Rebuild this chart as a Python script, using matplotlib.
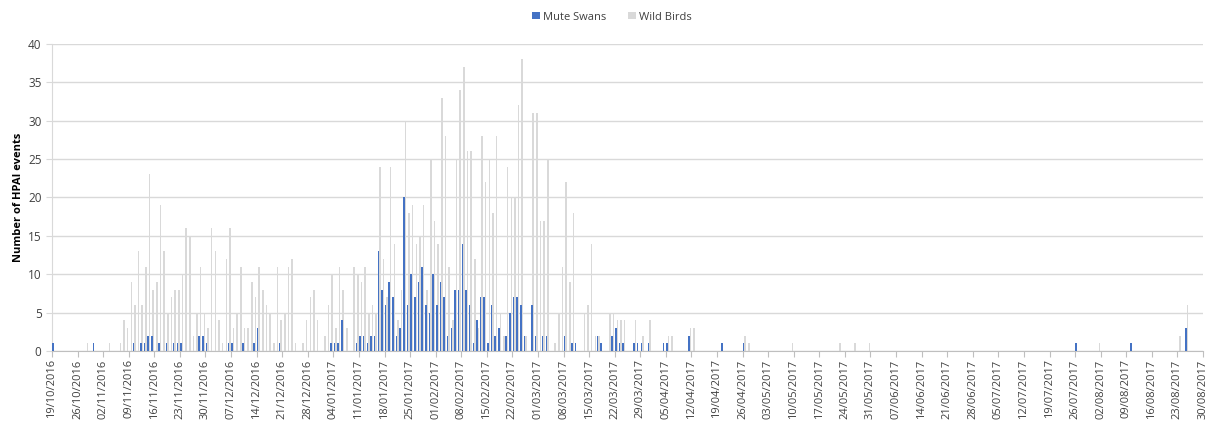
import matplotlib
matplotlib.use("Agg")
import matplotlib.pyplot as plt
import matplotlib.dates as mdates
import pandas as pd
import numpy as np

plt.rcParams['font.family'] = ['Open Sans', 'DejaVu Sans']

start_date = "2016-10-19"
end_date = "2017-08-30"

# Daily counts, one row per week starting 19/10/2016
mute_swans = [
    1, 0, 0, 0, 0, 0, 0,
    0, 0, 0, 0, 1, 0, 0,
    0, 0, 0, 0, 0, 0, 0,
    0, 1, 0, 1, 1, 2, 2,
    0, 1, 0, 1, 0, 1, 1,
    1, 0, 0, 0, 0, 2, 2,
    1, 0, 0, 0, 0, 0, 1,
    1, 0, 0, 1, 0, 0, 1,
    3, 0, 0, 0, 0, 0, 1,
    0, 0, 0, 0, 0, 0, 0,
    0, 0, 0, 0, 0, 0, 1,
    1, 1, 4, 0, 0, 0, 1,
    2, 2, 1, 2, 2, 13, 8,
    6, 9, 7, 2, 3, 20, 6,
    10, 7, 9, 11, 6, 5, 10,
    6, 9, 7, 2, 3, 8, 8,
    14, 8, 6, 1, 4, 7, 7,
    1, 6, 2, 3, 0, 2, 5,
    7, 7, 6, 2, 0, 6, 2,
    0, 2, 2, 0, 0, 0, 0,
    2, 0, 1, 1, 0, 0, 0,
    0, 0, 2, 1, 0, 0, 2,
    3, 1, 1, 0, 0, 1, 1,
    1, 0, 1, 0, 0, 0, 1,
    1, 0, 0, 0, 0, 0, 2,
    0, 0, 0, 0, 0, 0, 0,
    0, 1, 0, 0, 0, 0, 0,
    1, 0, 0, 0, 0, 0, 0,
    0, 0, 0, 0, 0, 0, 0,
    0, 0, 0, 0, 0, 0, 0,
    0, 0, 0, 0, 0, 0, 0,
    0, 0, 0, 0, 0, 0, 0,
    0, 0, 0, 0, 0, 0, 0,
    0, 0, 0, 0, 0, 0, 0,
    0, 0, 0, 0, 0, 0, 0,
    0, 0, 0, 0, 0, 0, 0,
    0, 0, 0, 0, 0, 0, 0,
    0, 0, 0, 0, 0, 0, 0,
    0, 0, 0, 0, 0, 0, 0,
    0, 0, 0, 0, 0, 0, 0,
    1, 0, 0, 0, 0, 0, 0,
    0, 0, 0, 0, 0, 0, 0,
    0, 1, 0, 0, 0, 0, 0,
    0, 0, 0, 0, 0, 0, 0,
    0, 0, 3, 0, 0, 0, 0,
]

wild_birds = [
    0, 0, 0, 0, 0, 0, 0,
    0, 0, 1, 0, 0, 0, 0,
    0, 1, 0, 0, 1, 4, 3,
    9, 6, 13, 6, 11, 23, 8,
    9, 19, 13, 5, 7, 8, 8,
    10, 16, 15, 2, 5, 11, 5,
    3, 16, 13, 4, 1, 12, 16,
    3, 5, 11, 3, 3, 9, 7,
    11, 8, 6, 5, 1, 11, 4,
    5, 11, 12, 1, 0, 1, 4,
    7, 8, 4, 0, 2, 6, 10,
    3, 11, 8, 3, 0, 11, 10,
    9, 11, 5, 6, 5, 24, 12,
    7, 24, 14, 4, 8, 30, 18,
    19, 14, 15, 19, 8, 25, 17,
    14, 33, 28, 11, 4, 25, 34,
    37, 26, 26, 12, 3, 28, 22,
    25, 18, 28, 5, 2, 24, 20,
    20, 32, 38, 2, 0, 31, 31,
    17, 17, 25, 0, 1, 5, 11,
    22, 9, 18, 0, 0, 5, 6,
    14, 2, 2, 0, 0, 5, 5,
    4, 4, 4, 0, 0, 4, 0,
    2, 0, 4, 0, 0, 0, 0,
    2, 2, 0, 0, 0, 0, 3,
    3, 0, 0, 0, 0, 0, 0,
    0, 0, 0, 0, 0, 0, 0,
    2, 1, 0, 0, 0, 0, 0,
    0, 0, 0, 0, 0, 0, 1,
    0, 0, 0, 0, 0, 0, 0,
    0, 0, 0, 0, 0, 1, 0,
    0, 0, 1, 0, 0, 0, 1,
    0, 0, 0, 0, 0, 0, 0,
    0, 0, 0, 0, 0, 0, 0,
    0, 0, 0, 0, 0, 0, 0,
    0, 0, 0, 0, 0, 0, 0,
    0, 0, 0, 0, 0, 0, 0,
    0, 0, 0, 0, 0, 0, 0,
    0, 0, 0, 0, 0, 0, 0,
    0, 0, 0, 0, 0, 0, 0,
    0, 0, 0, 0, 0, 0, 1,
    0, 0, 0, 0, 0, 0, 0,
    0, 0, 0, 0, 0, 0, 0,
    0, 0, 0, 0, 0, 0, 0,
    2, 0, 6, 0, 0, 0, 0,
]

series_names = ["Mute Swans", "Wild Birds"]
colors = ["#4472C4", "#D9D9D9"]

dates = pd.date_range(start_date, periods=len(mute_swans), freq="D")
x = mdates.date2num(dates)

fig = plt.figure(figsize=(12.09, 4.23), dpi=100)
ax = fig.add_axes([52/1209, 72/423, 1151/1209, 307/423])

bw = 0.42
ax.bar(x + 0.3, mute_swans, width=bw, color=colors[0], label=series_names[0], zorder=3, linewidth=0)
ax.bar(x + 0.7, wild_birds, width=bw, color=colors[1], label=series_names[1], zorder=2, linewidth=0)

ax.set_xlim(mdates.date2num(pd.Timestamp(start_date)), mdates.date2num(pd.Timestamp(end_date)))
ax.set_ylim(0, 40)
ax.set_yticks(np.arange(0, 41, 5))

ticks = pd.date_range(start_date, end_date, freq="7D")
ax.set_xticks(mdates.date2num(ticks))
ax.set_xticklabels([d.strftime("%d/%m/%Y") for d in ticks], rotation=90, fontsize=8, color="#404040")
ax.tick_params(axis="y", labelsize=8.5, labelcolor="#404040", color="#D9D9D9", length=4)
ax.tick_params(axis="x", color="#BFBFBF", length=4, pad=2)

ax.grid(axis="y", color="#D9D9D9", linewidth=1, zorder=0)
ax.set_axisbelow(True)
for s in ["top", "right"]:
    ax.spines[s].set_visible(False)
ax.spines["left"].set_color("#D9D9D9")
ax.spines["bottom"].set_color("#BFBFBF")

ax.set_ylabel("Number of HPAI events", fontsize=8, fontweight="bold", color="#000000", labelpad=3)

fig.legend(loc="center", bbox_to_anchor=(612/1209, 1 - 17/423), ncol=2, frameon=False,
           fontsize=8, handlelength=0.7, handleheight=0.7, handletextpad=0.3, columnspacing=2.0,
           labelcolor="#404040")

fig.savefig("out.png", dpi=100)
